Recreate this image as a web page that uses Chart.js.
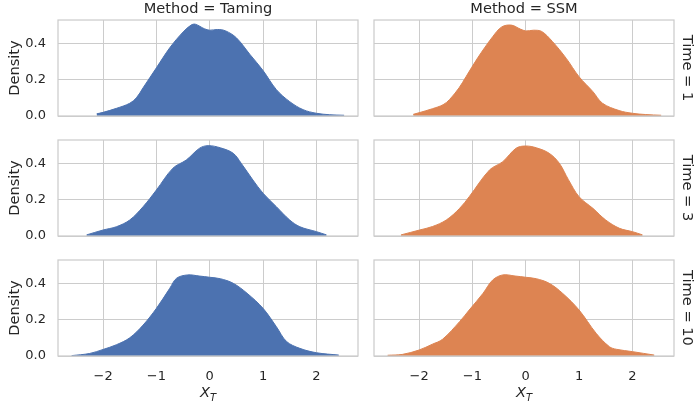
<!DOCTYPE html>
<html>
<head>
<meta charset="utf-8">
<script src="https://cdn.jsdelivr.net/npm/chart.js@4.4.1/dist/chart.umd.min.js"></script>
<style>
  body { margin: 0; background: #fff; }
  #wrap { position: relative; width: 698px; height: 401px; overflow: hidden; font-family: "DejaVu Sans", sans-serif; color: #262626; }
  canvas { position: absolute; }
  .xlab { position: absolute; top: 383px; font-size: 14.6px; font-style: italic; transform: translateX(-50%); white-space: nowrap; }
  .xlab sub { font-size: 10px; }
  .rowlab { position: absolute; font-size: 14.6px; white-space: nowrap; transform: translate(-50%, -50%) rotate(90deg); }
</style>
</head>
<body>
<div id="wrap"></div>
<script>
// density curves (x grid, density)
const tamingX1 = [-2.12, -2.0, -1.75, -1.5, -1.375, -1.25, -1.0, -0.75, -0.5, -0.35, -0.27, -0.1, 0.0, 0.15, 0.3, 0.5, 0.75, 1.0, 1.25, 1.5, 1.75, 2.0, 2.25, 2.52];
const tamingY1 = [0.012, 0.02, 0.042, 0.07, 0.1, 0.155, 0.265, 0.375, 0.462, 0.5, 0.505, 0.48, 0.472, 0.476, 0.468, 0.43, 0.34, 0.25, 0.145, 0.079, 0.035, 0.015, 0.007, 0.004];
const ssmX1 = [-2.11, -2.0, -1.75, -1.55, -1.43, -1.25, -1.12, -0.9, -0.62, -0.45, -0.27, -0.1, 0.0, 0.15, 0.3, 0.5, 0.76, 1.0, 1.26, 1.44, 1.75, 2.0, 2.25, 2.54];
const ssmY1 = [0.009, 0.018, 0.04, 0.062, 0.09, 0.155, 0.216, 0.32, 0.436, 0.49, 0.5, 0.478, 0.468, 0.472, 0.465, 0.41, 0.317, 0.216, 0.134, 0.07, 0.03, 0.015, 0.008, 0.004];

const tamingX3 = [-2.31, -2.0, -1.75, -1.5, -1.25, -1.0, -0.69, -0.44, -0.19, -0.03, 0.2, 0.44, 0.59, 0.81, 1.0, 1.25, 1.5, 1.69, 2.0, 2.19];
const tamingY3 = [0.006, 0.033, 0.051, 0.088, 0.161, 0.253, 0.373, 0.418, 0.483, 0.497, 0.485, 0.455, 0.4, 0.308, 0.235, 0.161, 0.088, 0.051, 0.024, 0.006];
const ssmX3 = [-2.34, -1.99, -1.75, -1.49, -1.24, -1.06, -0.68, -0.43, -0.18, 0.0, 0.2, 0.44, 0.63, 0.8, 1.0, 1.26, 1.5, 1.76, 2.0, 2.19];
const ssmY3 = [0.006, 0.033, 0.052, 0.088, 0.152, 0.216, 0.363, 0.409, 0.483, 0.495, 0.485, 0.455, 0.4, 0.31, 0.216, 0.152, 0.088, 0.042, 0.024, 0.006];

const tamingX10 = [-2.59, -2.25, -2.0, -1.75, -1.5, -1.25, -1.0, -0.75, -0.62, -0.41, -0.2, 0.0, 0.2, 0.44, 0.7, 1.0, 1.25, 1.44, 1.69, 2.0, 2.42];
const tamingY10 = [0.002, 0.014, 0.036, 0.062, 0.1, 0.17, 0.262, 0.372, 0.428, 0.446, 0.44, 0.433, 0.425, 0.4, 0.345, 0.262, 0.161, 0.08, 0.042, 0.018, 0.005];
const ssmX10 = [-2.59, -2.31, -2.0, -1.75, -1.56, -1.24, -1.06, -0.8, -0.62, -0.43, -0.2, 0.0, 0.2, 0.44, 0.69, 1.0, 1.32, 1.57, 1.7, 2.0, 2.41];
const ssmY10 = [0.004, 0.009, 0.033, 0.065, 0.092, 0.189, 0.253, 0.345, 0.418, 0.446, 0.44, 0.433, 0.425, 0.4, 0.345, 0.253, 0.125, 0.051, 0.037, 0.024, 0.005];

const methods = ["Taming", "SSM"];
const times = [1, 3, 10];
const xTicks = [-2, -1, 0, 1, 2];
const yTicks = [0, 0.2, 0.4];

const curves = [
  [[tamingX1, tamingY1], [tamingX3, tamingY3], [tamingX10, tamingY10]],
  [[ssmX1, ssmY1], [ssmX3, ssmY3], [ssmX10, ssmY10]]
];
const colors = ["#4c72b0", "#dd8452"];

const FONT = "'DejaVu Sans', sans-serif";
const TEXT = "#262626";
const GRID = "#cccccc";
Chart.defaults.font.family = FONT;
Chart.defaults.color = TEXT;

// axes frame on all four sides, like the seaborn spines
const framePlugin = {
  id: "frame",
  afterDatasetsDraw(chart) {
    const { ctx, chartArea: a } = chart;
    ctx.save();
    ctx.strokeStyle = GRID;
    ctx.lineWidth = 1.25;
    ctx.strokeRect(a.left, a.top, a.right - a.left, a.bottom - a.top);
    ctx.restore();
  }
};

function fmtX(v) {
  return v < 0 ? "\u2212" + Math.abs(v) : String(v);
}

const wrap = document.getElementById("wrap");

function makePanel(r, c) {
  const left = c === 0 ? 0 : 366;
  const width = c === 0 ? 366 : 332;
  const top = r * 120;
  const height = r === 2 ? 161 : 120;

  const canvas = document.createElement("canvas");
  canvas.width = width;
  canvas.height = height;
  canvas.style.left = left + "px";
  canvas.style.top = top + "px";
  canvas.style.width = width + "px";
  canvas.style.height = height + "px";
  wrap.appendChild(canvas);

  const xs = curves[c][r][0];
  const ys = curves[c][r][1];
  const points = xs.map(function (x, i) { return { x: x, y: ys[i] }; });

  new Chart(canvas, {
    type: "line",
    data: {
      datasets: [{
        data: points,
        borderColor: colors[c],
        backgroundColor: colors[c],
        borderWidth: 1,
        pointRadius: 0,
        fill: "origin",
        tension: 0.35
      }]
    },
    options: {
      responsive: false,
      animation: false,
      devicePixelRatio: 1,
      layout: { padding: { top: r === 0 ? 0 : 20, right: c === 0 ? 8 : 24, bottom: 0, left: 0 } },
      plugins: {
        legend: { display: false },
        tooltip: { enabled: false },
        title: {
          display: r === 0,
          text: "Method = " + methods[c],
          fullSize: false,
          color: TEXT,
          font: { size: 14.6, weight: "normal" },
          padding: { top: 0.5, bottom: 2 }
        }
      },
      scales: {
        x: {
          type: "linear",
          min: -2.845,
          max: 2.78,
          border: { display: false },
          grid: { color: GRID, lineWidth: 1, drawTicks: false },
          ticks: { display: r === 2, padding: 13, color: TEXT, font: { size: 13 }, callback: fmtX },
          afterBuildTicks: function (s) { s.ticks = xTicks.map(function (v) { return { value: v }; }); },
          afterFit: function (s) {
            s.height = height - 116;
            s.paddingLeft = 0; s.paddingRight = 0; s.paddingTop = 0; s.paddingBottom = 0;
          }
        },
        y: {
          min: 0,
          max: 0.528,
          border: { display: false },
          grid: { color: GRID, lineWidth: 1, drawTicks: false },
          ticks: { display: c === 0, padding: 12, color: TEXT, font: { size: 13 }, callback: function (v) { return v.toFixed(1); } },
          title: { display: c === 0, text: "Density", color: TEXT, font: { size: 14.6 }, padding: { top: 6, bottom: 0 } },
          afterBuildTicks: function (s) { s.ticks = yTicks.map(function (v) { return { value: v }; }); },
          afterFit: function (s) {
            s.width = c === 0 ? 58 : 8;
            s.paddingLeft = 0; s.paddingRight = 0; s.paddingTop = 0; s.paddingBottom = 0;
          }
        }
      }
    },
    plugins: [framePlugin]
  });
}

for (let r = 0; r < 3; r++) {
  for (let c = 0; c < 2; c++) makePanel(r, c);
}

// x axis labels under the bottom row
[208, 524].forEach(function (cx) {
  const d = document.createElement("div");
  d.className = "xlab";
  d.style.left = cx + "px";
  d.innerHTML = "X<sub>T</sub>";
  wrap.appendChild(d);
});

// facet row labels on the right
times.forEach(function (t, r) {
  const d = document.createElement("div");
  d.className = "rowlab";
  d.style.left = "688px";
  d.style.top = (68 + r * 120) + "px";
  d.textContent = "Time = " + t;
  wrap.appendChild(d);
});
</script>
</body>
</html>
